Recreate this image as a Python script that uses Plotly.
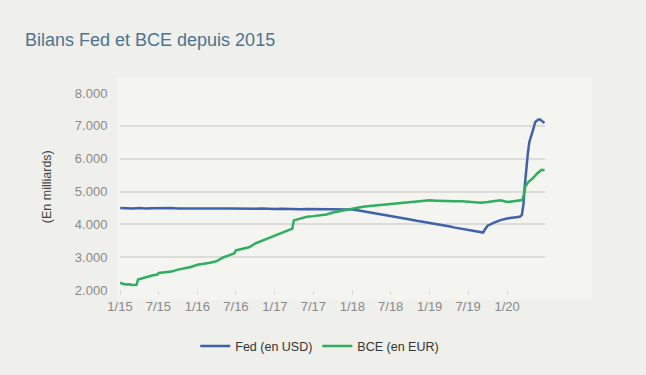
import plotly.graph_objects as go

# ---------------- data ----------------
fed_dates = [
    "2015-01-02", "2015-02-01", "2015-03-01", "2015-04-01", "2015-05-01", "2015-06-01",
    "2015-07-01", "2015-08-01", "2015-09-01", "2015-10-01", "2015-11-01", "2015-12-01",
    "2016-01-01", "2016-02-01", "2016-03-01", "2016-04-01", "2016-05-01", "2016-06-01",
    "2016-07-01", "2016-08-01", "2016-09-01", "2016-10-01", "2016-11-01", "2016-12-01",
    "2017-01-01", "2017-02-01", "2017-03-01", "2017-04-01", "2017-05-01", "2017-06-01",
    "2017-07-01", "2017-08-01", "2017-09-01", "2017-10-01", "2017-11-01", "2017-12-01",
    "2018-01-01", "2018-02-01", "2018-03-01", "2018-04-01", "2018-05-01", "2018-06-01",
    "2018-07-01", "2018-08-01", "2018-09-01", "2018-10-01", "2018-11-01", "2018-12-01",
    "2019-01-01", "2019-02-01", "2019-03-01", "2019-04-01", "2019-05-01", "2019-06-01",
    "2019-07-01", "2019-08-01", "2019-08-21", "2019-09-10", "2019-09-20", "2019-10-01",
    "2019-11-01", "2019-12-01", "2020-01-01", "2020-02-01", "2020-03-01", "2020-03-11",
    "2020-03-18", "2020-03-25", "2020-04-01", "2020-04-08", "2020-04-15", "2020-04-22",
    "2020-04-29", "2020-05-06", "2020-05-13", "2020-05-20", "2020-05-27", "2020-06-03",
    "2020-06-10", "2020-06-17", "2020-06-26",
]
fed_values = [
    4500, 4490, 4480, 4495, 4480, 4490,
    4495, 4490, 4495, 4485, 4490, 4480,
    4490, 4485, 4480, 4490, 4485, 4480,
    4475, 4480, 4470, 4475, 4480, 4470,
    4470, 4475, 4465, 4470, 4460, 4470,
    4465, 4470, 4460, 4470, 4455, 4460,
    4450, 4420, 4390, 4360, 4330, 4300,
    4265, 4230, 4190, 4150, 4110, 4080,
    4050, 4000, 3970, 3940, 3900, 3865,
    3825, 3785, 3760, 3750, 3860, 3960,
    4050, 4130, 4180, 4200, 4230, 4290,
    4600, 5200, 5750, 6150, 6500, 6680,
    6850, 6950, 7120, 7170, 7190, 7200,
    7160, 7120, 7090,
]

bce_dates = [
    "2015-01-02", "2015-01-16", "2015-02-01", "2015-02-15", "2015-03-01", "2015-03-20",
    "2015-03-27", "2015-04-15", "2015-05-01", "2015-06-01", "2015-06-26", "2015-07-03",
    "2015-08-01", "2015-09-01", "2015-10-01", "2015-11-01", "2015-12-01", "2016-01-01",
    "2016-02-01", "2016-03-01", "2016-04-01", "2016-05-01", "2016-06-01", "2016-06-24",
    "2016-07-01", "2016-08-01", "2016-09-01", "2016-10-01", "2016-11-01", "2016-12-01",
    "2017-01-01", "2017-02-01", "2017-03-01", "2017-03-24", "2017-03-31", "2017-05-01",
    "2017-06-01", "2017-07-01", "2017-08-01", "2017-09-01", "2017-10-01", "2017-11-01",
    "2017-12-01", "2018-01-01", "2018-02-01", "2018-03-01", "2018-04-01", "2018-05-01",
    "2018-06-01", "2018-07-01", "2018-08-01", "2018-09-01", "2018-10-01", "2018-11-01",
    "2018-12-01", "2019-01-01", "2019-02-01", "2019-03-01", "2019-04-01", "2019-05-01",
    "2019-06-01", "2019-07-01", "2019-08-01", "2019-09-01", "2019-10-01", "2019-11-01",
    "2019-12-01", "2020-01-01", "2020-02-01", "2020-03-01", "2020-03-13", "2020-03-20",
    "2020-03-27", "2020-04-10", "2020-05-01", "2020-05-22", "2020-06-05", "2020-06-12",
    "2020-06-26",
]
bce_values = [
    2225, 2180, 2165, 2175, 2150, 2160,
    2320, 2360, 2390, 2440, 2470, 2520,
    2540, 2560, 2620, 2650, 2700, 2770,
    2790, 2830, 2880, 2990, 3060, 3120,
    3210, 3250, 3300, 3420, 3500, 3570,
    3660, 3720, 3800, 3870, 4120, 4180,
    4230, 4250, 4270, 4300, 4360, 4400,
    4450, 4480, 4510, 4540, 4560, 4580,
    4600, 4630, 4650, 4650, 4680, 4690,
    4710, 4730, 4720, 4710, 4700, 4700,
    4700, 4690, 4680, 4660, 4680, 4700,
    4730, 4680, 4700, 4710, 4740, 4900,
    5150, 5290, 5400, 5550, 5640, 5660,
    5650,
]

x_tick_dates = ["2015-01-01", "2015-07-01", "2016-01-01", "2016-07-01", "2017-01-01",
                "2017-07-01", "2018-01-01", "2018-07-01", "2019-01-01", "2019-07-01",
                "2020-01-01"]
x_tick_labels = ["1/15", "7/15", "1/16", "7/16", "1/17", "7/17", "1/18", "7/18",
                 "1/19", "7/19", "1/20"]
y_tick_vals = [2000, 3000, 4000, 5000, 6000, 7000, 8000]
y_tick_labels = ["2.000", "3.000", "4.000", "5.000", "6.000", "7.000", "8.000"]

series_names = ["Fed (en USD)", "BCE (en EUR)"]
title_text = "Bilans Fed et BCE depuis 2015"
y_title = "(En milliards)"

# ---------------- figure ----------------
FONT = "Liberation Sans, Arial, Helvetica, sans-serif"
fig = go.Figure()
fig.add_trace(go.Scatter(x=fed_dates, y=fed_values, mode="lines", name=series_names[0],
                         line=dict(color="#4062a9", width=2.5)))
fig.add_trace(go.Scatter(x=bce_dates, y=bce_values, mode="lines", name=series_names[1],
                         line=dict(color="#2fae5f", width=2.5)))

fig.update_layout(
    width=646, height=375,
    margin=dict(l=120, r=101, t=93, b=85),
    paper_bgcolor="#efefeb",
    plot_bgcolor="rgba(0,0,0,0)",
    font=dict(family=FONT, color="#555"),
    title=dict(text=title_text, x=25 / 646, xanchor="left", y=1 - 40 / 375, yanchor="middle",
               font=dict(size=18, color="#4b7491", family=FONT)),
    showlegend=True,
    legend=dict(orientation="h", x=0.47, xanchor="center", y=-0.21, yanchor="top",
                font=dict(size=12.5, color="#333"), itemwidth=30, bgcolor="rgba(0,0,0,0)"),
    shapes=[dict(type="rect", xref="paper", yref="paper", x0=-3 / 425, x1=472 / 425,
                 y0=-10 / 197.3, y1=212.7 / 197.3, fillcolor="#f4f4f1",
                 line=dict(width=0), layer="below")],
    annotations=[dict(text=y_title, textangle=-90, xref="paper", yref="paper",
                      x=-73 / 425, y=0.522, xanchor="center", yanchor="middle",
                      showarrow=False, font=dict(size=12.5, color="#444", family=FONT))],
)
fig.update_xaxes(
    type="date", range=["2015-01-01", "2020-06-28"],
    tickvals=x_tick_dates, ticktext=x_tick_labels,
    ticks="outside", ticklen=4, tickcolor="#d8d8d4", tickwidth=1,
    showgrid=False, zeroline=False, showline=False,
    tickfont=dict(size=13, color="#8a8a8a"),
)
fig.update_yaxes(
    range=[2000, 8000], tickvals=y_tick_vals, ticktext=y_tick_labels,
    showgrid=True, gridcolor="#dcdcd8", gridwidth=1.5, zeroline=False,
    ticks="outside", ticklen=9, tickcolor="rgba(0,0,0,0)",
    tickfont=dict(size=13, color="#8a8a8a"),
)

fig.write_html("out.html", config={"displayModeBar": False},
               post_script="document.body.style.margin='0';document.body.style.background='#efefeb';")
